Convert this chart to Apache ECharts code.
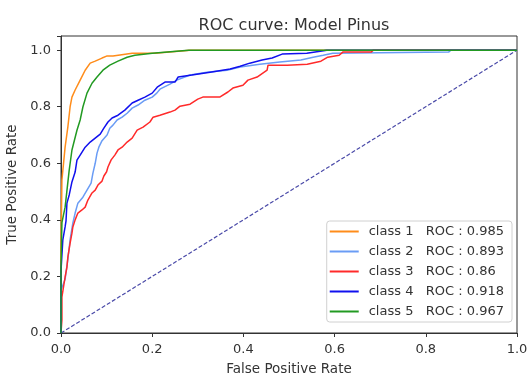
<!DOCTYPE html>
<html lang="en">
<head>
    <meta charset="UTF-8">
    <title>ROC curve: Model Pinus</title>
    <script src="https://cdn.jsdelivr.net/npm/echarts@6/dist/echarts.min.js"></script>
    <style type="text/css">
        html, body {margin:0;padding:0;background:#fff;}
        #chart {width:528px;height:376px;}
    </style>
</head>
<body>
<div id="chart"></div>

<script type="text/javascript">
    // 每一类的 ROC 曲线 [FPR, TPR]
    var classNames = ['class 1', 'class 2', 'class 3', 'class 4', 'class 5'];
    var rocScores = ['0.985', '0.893', '0.86', '0.918', '0.967'];
    var classColors = ['#ff8c1a', '#6a9cf5', '#ff2a2a', '#1010ee', '#229a22'];

    var class1Points = [[0,0],[0,0.3],[0.002,0.54],[0.009,0.657],[0.015,0.728],[0.02,0.80],[0.024,0.834],
        [0.031,0.859],[0.042,0.894],[0.053,0.929],[0.064,0.954],[0.075,0.961],[0.09,0.972],[0.10,0.979],
        [0.114,0.979],[0.156,0.989],[0.206,0.989],[0.283,1.0],[1,1]];

    var class2Points = [[0,0],[0,0.15],[0.002,0.16],[0.009,0.19],[0.015,0.26],[0.02,0.33],[0.026,0.389],
        [0.031,0.424],[0.037,0.459],[0.048,0.48],[0.057,0.505],[0.066,0.53],[0.07,0.565],[0.075,0.6],
        [0.079,0.636],[0.083,0.657],[0.09,0.68],[0.101,0.7],[0.107,0.724],[0.114,0.735],[0.123,0.753],
        [0.134,0.763],[0.145,0.777],[0.156,0.795],[0.169,0.806],[0.184,0.823],[0.2,0.834],[0.21,0.848],
        [0.217,0.862],[0.239,0.88],[0.254,0.894],[0.283,0.912],[0.32,0.922],[0.364,0.929],[0.393,0.94],
        [0.436,0.95],[0.48,0.958],[0.526,0.965],[0.553,0.975],[0.575,0.982],[0.596,0.989],[0.85,0.993],
        [0.855,1.0],[1,1]];

    var class3Points = [[0,0],[0.002,0.046],[0.002,0.127],[0.009,0.198],[0.013,0.233],[0.015,0.268],
        [0.02,0.318],[0.024,0.353],[0.026,0.375],[0.031,0.4],[0.037,0.424],[0.046,0.435],[0.053,0.445],
        [0.059,0.47],[0.068,0.495],[0.075,0.505],[0.081,0.523],[0.09,0.537],[0.094,0.555],[0.1,0.57],
        [0.103,0.587],[0.11,0.612],[0.118,0.629],[0.125,0.647],[0.134,0.657],[0.145,0.675],[0.156,0.689],
        [0.167,0.717],[0.18,0.728],[0.195,0.746],[0.202,0.763],[0.217,0.77],[0.239,0.781],[0.25,0.788],
        [0.261,0.802],[0.283,0.809],[0.3,0.827],[0.311,0.834],[0.348,0.834],[0.366,0.852],[0.377,0.866],
        [0.399,0.876],[0.41,0.894],[0.43,0.905],[0.452,0.929],[0.454,0.947],[0.496,0.947],[0.54,0.95],
        [0.57,0.961],[0.585,0.975],[0.61,0.982],[0.618,0.993],[0.68,0.993],[0.685,1.0],[1,1]];

    var class4Points = [[0,0],[0,0.22],[0.002,0.223],[0.004,0.329],[0.009,0.375],[0.011,0.396],
        [0.013,0.459],[0.018,0.488],[0.024,0.534],[0.031,0.569],[0.035,0.611],[0.042,0.629],[0.053,0.657],
        [0.064,0.675],[0.075,0.689],[0.086,0.703],[0.094,0.724],[0.103,0.746],[0.112,0.760],[0.125,0.770],
        [0.14,0.788],[0.156,0.813],[0.169,0.823],[0.184,0.834],[0.2,0.848],[0.211,0.869],[0.228,0.887],
        [0.25,0.887],[0.257,0.905],[0.287,0.912],[0.327,0.922],[0.371,0.933],[0.393,0.943],[0.414,0.954],
        [0.441,0.965],[0.463,0.972],[0.485,0.986],[0.539,0.989],[0.583,1.0],[1,1]];

    var class5Points = [[0,0],[0,0.23],[0.002,0.39],[0.009,0.445],[0.018,0.576],[0.024,0.647],
        [0.035,0.717],[0.042,0.753],[0.048,0.799],[0.057,0.848],[0.068,0.883],[0.079,0.905],[0.092,0.929],
        [0.107,0.947],[0.125,0.961],[0.145,0.975],[0.162,0.982],[0.2,0.989],[0.28,1.0],[1,1]];

    var chancePoints = [[0,0],[1,1]];
    var tickValues = [0, 0.2, 0.4, 0.6, 0.8, 1.0];

    var allPoints = [class1Points, class2Points, class3Points, class4Points, class5Points];

    var myChart = echarts.init(document.getElementById('chart'));
    var fontFamily = 'DejaVu Sans';

    var axisCommon = {
        type: 'value',
        min: 0,
        interval: 0.2,
        axisLine: {show: true, lineStyle: {color: '#333', width: 1}},
        axisTick: {show: true, length: 4, inside: false, lineStyle: {color: '#333'}},
        splitLine: {show: false},
        axisLabel: {
            color: '#333',
            fontSize: 13,
            fontFamily: fontFamily,
            margin: 10,
            formatter: function (v) {
                return tickValues.indexOf(Math.round(v * 10) / 10) >= 0 && v <= 1.0001 ? v.toFixed(1) : '';
            }
        },
        nameLocation: 'middle',
        nameTextStyle: {color: '#333', fontSize: 13.5, fontFamily: fontFamily}
    };

    var series = allPoints.map(function (pts, i) {
        return {
            name: classNames[i],
            type: 'line',
            data: pts,
            symbol: 'none',
            lineStyle: {width: 1.5, color: classColors[i]},
            itemStyle: {color: classColors[i]},
            z: 3
        };
    });
    series.push({
        name: 'chance',
        type: 'line',
        data: chancePoints,
        symbol: 'none',
        lineStyle: {width: 1.2, color: '#4a4aa8', type: [4, 2]},
        z: 2
    });

    var option = {
        backgroundColor: '#fff',
        animation: false,
        title: {
            text: 'ROC curve: Model Pinus',
            left: 289,
            top: 13,
            textAlign: 'center',
            textStyle: {fontSize: 16, fontWeight: 'normal', color: '#333', fontFamily: fontFamily}
        },
        legend: {
            orient: 'vertical',
            right: 16,
            top: 221,
            padding: [4, 8, 4, 3],
            itemGap: 7,
            itemWidth: 29,
            itemHeight: 2,
            icon: 'rect',
            backgroundColor: '#fff',
            borderColor: '#d0d0d0',
            borderWidth: 1,
            borderRadius: 3,
            data: classNames,
            formatter: function (name) {
                var i = classNames.indexOf(name);
                return name + '   ROC : ' + rocScores[i];
            },
            textStyle: {fontSize: 13, color: '#333', fontFamily: fontFamily, padding: [0, 0, 0, 5]}
        },
        grid: {
            left: 61,
            right: 11,
            top: 36,
            bottom: 43,
            outerBoundsMode: 'none',
            containLabel: false,
            show: true,
            borderColor: '#333',
            borderWidth: 1
        },
        xAxis: Object.assign({}, axisCommon, {
            max: 1,
            name: 'False Positive Rate',
            nameGap: 29
        }),
        yAxis: Object.assign({}, axisCommon, {
            max: 1.05,
            name: 'True Positive Rate',
            nameGap: 38
        }),
        series: series
    };

    myChart.setOption(option);
</script>
</body>
</html>
